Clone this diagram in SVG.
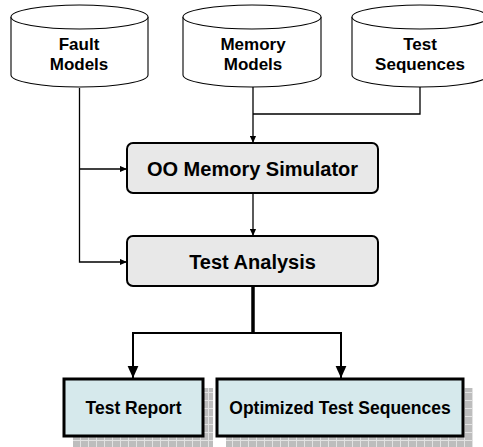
<svg xmlns="http://www.w3.org/2000/svg" width="483" height="447" viewBox="0 0 483 447">
<style>
text{font-family:"Liberation Sans",Arial,sans-serif;font-weight:bold;fill:#000;text-anchor:middle}
.cyl{fill:#fff;stroke:#000;stroke-width:1.1}
.cylt{font-size:17px}
.proc{fill:#e8e8e8;stroke:#000;stroke-width:2}
.proct{font-size:20px}
.out{fill:#d6e9ec;stroke:#000;stroke-width:3}
.outt{font-size:17.5px}
.thin{fill:none;stroke:#000;stroke-width:1.3}
.thick{fill:none;stroke:#000;stroke-width:2}
</style>
<defs>
<marker id="sa" viewBox="0 0 8 8" refX="8" refY="4" markerWidth="7" markerHeight="7" markerUnits="userSpaceOnUse" orient="auto"><path d="M0,0.5 L8,4 L0,7.5 Z" fill="#000"/></marker>
<marker id="la" viewBox="0 0 10 10" refX="10" refY="5" markerWidth="12" markerHeight="12" markerUnits="userSpaceOnUse" orient="auto"><path d="M0,0.5 L10,5 L0,9.5 Z" fill="#000"/></marker>
<pattern id="grid" width="8" height="8" patternUnits="userSpaceOnUse">
<rect width="8" height="8" fill="#bdbdbd"/>
<path d="M0,0.5 H8 M0.5,0 V8" stroke="#e2e2e2" stroke-width="1"/>
</pattern>
</defs>
<g id="fault-models">
<path class="cyl" d="M11,17 V75 A68.5,12 0 0 0 148,75 V17"/>
<ellipse class="cyl" cx="79.5" cy="17" rx="68.5" ry="12"/>
<text class="cylt" x="79" y="50">Fault</text>
<text class="cylt" x="79" y="70">Models</text>
</g>
<g id="memory-models">
<path class="cyl" d="M183,17 V75 A69,12 0 0 0 321,75 V17"/>
<ellipse class="cyl" cx="252" cy="17" rx="69" ry="12"/>
<text class="cylt" x="253" y="50">Memory</text>
<text class="cylt" x="253" y="70">Models</text>
</g>
<g id="test-sequences">
<path class="cyl" d="M352,17 V75 A68,12 0 0 0 488,75 V17"/>
<ellipse class="cyl" cx="420" cy="17" rx="68" ry="12"/>
<text class="cylt" x="420" y="50">Test</text>
<text class="cylt" x="420" y="70">Sequences</text>
</g>
<g id="oo-memory-simulator">
<rect class="proc" x="127" y="143" width="251" height="50" rx="6"/>
<text class="proct" x="252.5" y="176">OO Memory Simulator</text>
</g>
<g id="test-analysis">
<rect class="proc" x="127" y="236" width="251" height="50" rx="6"/>
<text class="proct" x="252.5" y="269">Test Analysis</text>
</g>
<g id="test-report">
<rect x="73" y="388" width="140" height="60" fill="url(#grid)"/>
<rect class="out" x="64" y="379" width="139" height="57"/>
<text class="outt" x="133.5" y="414">Test Report</text>
</g>
<g id="optimized-test-sequences">
<rect x="226" y="388" width="247" height="60" fill="url(#grid)"/>
<rect class="out" x="217" y="379" width="246" height="57"/>
<text class="outt" x="340" y="414">Optimized Test Sequences</text>
</g>
<g id="connectors">
<path class="thin" d="M253,87 V143" marker-end="url(#sa)"/>
<path class="thin" d="M420,87 V114 H253"/>
<path class="thin" d="M79.5,88 V262 H127" marker-end="url(#sa)"/>
<path class="thin" d="M79.5,169 H127" marker-end="url(#sa)"/>
<path class="thin" d="M253,193 V236" marker-end="url(#sa)"/>
<path d="M253,287 V333" fill="none" stroke="#000" stroke-width="3.5"/>
<path class="thick" d="M253,333 H133 V378" marker-end="url(#la)"/>
<path class="thick" d="M253,333 H341 V378" marker-end="url(#la)"/>
</g>
</svg>
